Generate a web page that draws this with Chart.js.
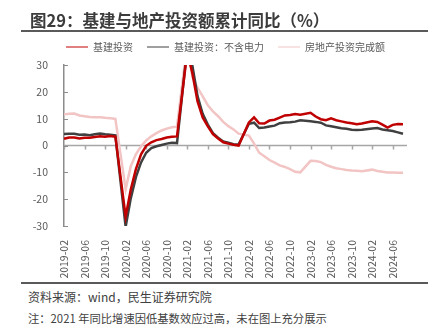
<!DOCTYPE html>
<html>
<head>
<meta charset="utf-8">
<title>基建与地产投资额累计同比</title>
<script src="https://cdn.jsdelivr.net/npm/chart.js"></script>
<style>
  body { margin: 0; background: #fff; font-family: "Noto Sans CJK SC", sans-serif; }
  .wrap { position: relative; width: 439px; height: 330px; overflow: hidden; }
  .title { position: absolute; left: 30px; top: 12px; font-size: 16.5px; line-height: 17px; font-weight: bold; color: #3c3c3c; white-space: nowrap; }
  .rule { position: absolute; left: 21px; width: 407px; height: 2px; background: #5a5a5a; }
  #chart { position: absolute; left: 0; top: 28px; }
  .note { position: absolute; left: 28px; font-size: 12px; line-height: 12px; color: #404040; white-space: nowrap; }
</style>
</head>
<body>
<div class="wrap">
  <canvas id="chart" width="439" height="254"></canvas>
  <div class="title">图29：基建与地产投资额累计同比（%）</div>
  <div class="rule" style="top:30px"></div>
  <div class="rule" style="top:282px"></div>
  <div class="note" style="top:291px">资料来源：wind，民生证券研究院</div>
  <div class="note" style="top:312px; font-size:11.3px">注：2021 年同比增速因低基数效应过高，未在图上充分展示</div>
</div>

<script>
// 月度，1月无单月累计数据（留空，连线跨过）
const months = [
  "2019-02", "2019-03", "2019-04", "2019-05", "2019-06", "2019-07", "2019-08", "2019-09", "2019-10", "2019-11", "2019-12",
  "2020-01", "2020-02", "2020-03", "2020-04", "2020-05", "2020-06", "2020-07", "2020-08", "2020-09", "2020-10", "2020-11", "2020-12",
  "2021-01", "2021-02", "2021-03", "2021-04", "2021-05", "2021-06", "2021-07", "2021-08", "2021-09", "2021-10", "2021-11", "2021-12",
  "2022-01", "2022-02", "2022-03", "2022-04", "2022-05", "2022-06", "2022-07", "2022-08", "2022-09", "2022-10", "2022-11", "2022-12",
  "2023-01", "2023-02", "2023-03", "2023-04", "2023-05", "2023-06", "2023-07", "2023-08", "2023-09", "2023-10", "2023-11", "2023-12",
  "2024-01", "2024-02", "2024-03", "2024-04", "2024-05", "2024-06", "2024-07", "2024-08"
];

// 基建投资 累计同比 %
const infra = [
  2.5, 3.0, 3.0, 2.6, 2.9, 2.9, 3.2, 3.4, 3.3, 3.5, 3.3,
  null, -26.5, -16.4, -8.8, -3.3, -0.1, 1.2, 2.0, 2.4, 3.0, 3.3, 3.4,
  null, 35.0, 26.8, 16.4, 10.4, 7.1, 4.2, 2.6, 1.2, 0.7, 0.3, 0.0,
  null, 8.6, 10.5, 8.3, 8.2, 9.3, 9.6, 10.4, 11.2, 11.4, 11.7, 11.5,
  null, 12.2, 10.8, 9.8, 9.4, 10.1, 9.4, 9.0, 8.6, 8.3, 7.9, 8.2,
  null, 9.0, 8.8, 7.8, 6.7, 7.7, 8.0, 7.9
];

// 基建投资：不含电力
const infraExPower = [
  4.3, 4.4, 4.4, 4.0, 4.1, 3.8, 4.2, 4.5, 4.2, 4.0, 3.8,
  null, -30.3, -19.7, -11.8, -6.3, -2.7, -1.0, -0.3, 0.2, 0.7, 1.0, 0.9,
  null, 36.6, 29.7, 18.4, 11.8, 7.8, 4.6, 2.9, 1.5, 1.0, 0.5, 0.4,
  null, 8.1, 8.5, 6.5, 6.7, 7.1, 7.4, 8.3, 8.6, 8.7, 8.9, 9.4,
  null, 9.0, 8.8, 8.5, 7.5, 7.2, 6.8, 6.4, 6.2, 5.9, 5.8, 5.9,
  null, 6.3, 6.5, 6.0, 5.7, 5.4, 4.9, 4.4
];

// 房地产投资完成额
const realEstate = [
  11.6, 11.8, 11.9, 11.2, 10.9, 10.6, 10.5, 10.5, 10.3, 10.2, 9.9,
  null, -16.3, -7.7, -3.3, -0.3, 1.9, 3.4, 4.6, 5.6, 6.3, 6.8, 7.0,
  null, 38.3, 25.6, 21.6, 18.3, 15.0, 12.7, 10.9, 8.8, 7.2, 6.0, 4.4,
  null, 3.7, 0.7, -2.7, -4.0, -5.4, -6.4, -7.4, -8.0, -8.8, -9.8, -10.0,
  null, -5.7, -5.8, -6.2, -7.2, -7.9, -8.5, -8.8, -9.1, -9.3, -9.4, -9.6,
  null, -9.0, -9.5, -9.8, -10.1, -10.1, -10.2, -10.2
];

const yTicks = [-30, -20, -10, 0, 10, 20, 30];
const labelEvery = 4;

Chart.defaults.font.family = '"Noto Sans CJK SC", sans-serif';
Chart.defaults.color = "#595959";

// 图例：固定高度，整体右移一点
const legendBox = {
  id: "legendBox",
  beforeLayout(chart) {
    if (chart.legend && !chart.legend._fixed) {
      const fit = chart.legend.fit;
      chart.legend.fit = function () {
        fit.call(this);
        this.height = 37;
      };
      chart.legend._fixed = true;
    }
  },
  afterLayout(chart) {
    if (chart.legend) chart.legend.left += 38;
  }
};

// 0 轴横线 + 刻度，y 轴向内刻度
const axisMarks = {
  id: "axisMarks",
  beforeDatasetsDraw(chart) {
    const { ctx, chartArea, scales: { x, y } } = chart;
    const y0 = y.getPixelForValue(0);
    ctx.save();
    ctx.strokeStyle = "#a6a6a6";
    ctx.lineWidth = 1.5;
    ctx.beginPath();
    ctx.moveTo(chartArea.left, y0);
    ctx.lineTo(chartArea.right + 4, y0);
    months.forEach((m, i) => {
      if (i % labelEvery === 0) {
        const px = Math.round(x.getPixelForValue(i)) + 0.5;
        ctx.moveTo(px, y0);
        ctx.lineTo(px, y0 + 4);
      }
    });
    ctx.stroke();

    ctx.strokeStyle = "#8c8c8c";
    ctx.lineWidth = 1;
    ctx.beginPath();
    yTicks.forEach(v => {
      const py = Math.round(y.getPixelForValue(v)) + 0.5;
      ctx.moveTo(chartArea.left, py);
      ctx.lineTo(chartArea.left + 4, py);
    });
    ctx.stroke();
    ctx.restore();
  }
};

const ctx = document.getElementById("chart").getContext("2d");
new Chart(ctx, {
  type: "line",
  data: {
    labels: months,
    datasets: [
      { label: "基建投资", data: infra, borderColor: "#C00000", backgroundColor: "#C00000" },
      { label: "基建投资：不含电力", data: infraExPower, borderColor: "#404040", backgroundColor: "#404040" },
      { label: "房地产投资完成额", data: realEstate, borderColor: "#F2C4C4", backgroundColor: "#F2C4C4" }
    ]
  },
  options: {
    responsive: false,
    animation: false,
    devicePixelRatio: 1,
    spanGaps: true,
    elements: {
      line: { borderWidth: 2.5, tension: 0 },
      point: { radius: 0 }
    },
    layout: { padding: { left: 10, right: 36, top: 0, bottom: 0 } },
    plugins: {
      legend: {
        position: "top",
        labels: {
          usePointStyle: true,
          pointStyle: "line",
          pointStyleWidth: 22,
          padding: 14,
          color: "#595959",
          font: { size: 10 }
        }
      },
      tooltip: { enabled: false }
    },
    scales: {
      x: {
        grid: { display: false },
        border: { display: false },
        ticks: {
          autoSkip: false,
          minRotation: 90,
          maxRotation: 90,
          padding: 6,
          color: "#595959",
          font: { size: 10.5 },
          callback: (v, i) => (i % labelEvery === 0 ? months[i] : null)
        },
        afterFit(scale) { scale.height = 56; }
      },
      y: {
        min: -30,
        max: 30,
        grid: { display: false },
        border: { display: true, color: "#8c8c8c", width: 1.5 },
        ticks: {
          stepSize: 10,
          padding: 8,
          color: "#595959",
          font: { size: 10.5 }
        },
        afterFit(scale) { scale.width = 54; }
      }
    }
  },
  plugins: [legendBox, axisMarks]
});
</script>
</body>
</html>
